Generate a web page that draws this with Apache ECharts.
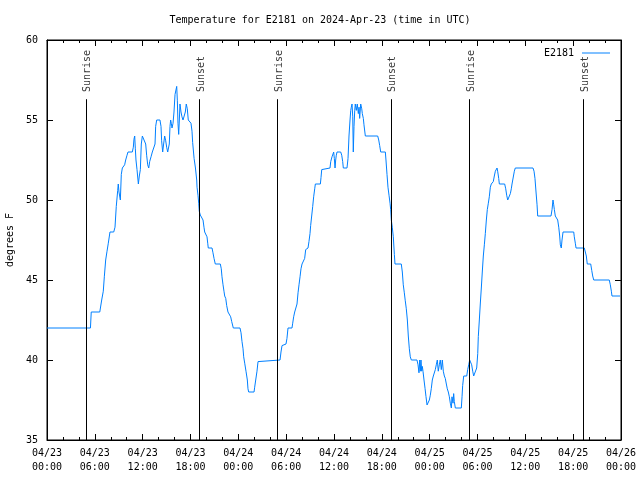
<!DOCTYPE html>
<html>
<head>
<meta charset="utf-8">
<script src="https://cdn.jsdelivr.net/npm/echarts@6/dist/echarts.min.js"></script>
<style>html,body{margin:0;padding:0;background:#fff}#c{width:640px;height:480px}</style>
</head>
<body>
<div id="c"></div>
<script>
// hours since 2024-04-23 00:00 UTC
const hours = [
0,5.45,5.55,6.62,6.86,7.06,7.19,7.36,7.53,7.69,7.90,8.37,8.53,8.69,8.87,8.94,9.03,9.20,9.32,9.45,
9.74,9.87,10.04,10.16,10.70,10.83,10.91,11.00,11.08,11.16,11.29,11.46,11.58,11.71,11.83,11.96,12.21,12.38,12.50,12.63,
12.76,12.88,13.05,13.21,13.42,13.55,13.63,13.76,14.17,14.30,14.38,14.51,14.63,14.76,14.89,15.01,15.14,15.27,15.34,15.43,
15.51,15.59,15.68,15.81,15.93,16.06,16.18,16.27,16.35,16.43,16.52,16.60,16.68,16.81,16.93,17.06,17.22,17.35,17.47,17.60,
17.72,17.94,18.06,18.19,18.27,18.45,18.62,18.78,18.82,18.94,19.03,19.10,19.23,19.48,19.57,19.69,19.78,19.98,20.07,20.16,
20.23,20.70,20.82,20.95,21.11,21.74,21.86,21.95,22.08,22.20,22.29,22.42,22.54,22.70,22.92,23.04,23.17,23.29,23.37,24.21,
24.34,24.46,24.59,24.67,24.80,24.96,25.13,25.21,25.30,25.97,26.05,26.18,26.34,26.47,26.59,29.23,29.35,29.48,29.98,30.10,
30.23,30.73,30.82,30.94,31.07,31.27,31.36,31.49,31.61,31.74,31.86,31.99,32.24,32.32,32.45,32.58,32.74,32.86,32.99,33.07,
33.20,33.33,33.45,33.58,33.66,34.29,34.37,34.46,34.53,35.50,35.59,35.75,35.88,35.96,36.04,36.13,36.21,36.29,36.38,36.84,
36.97,37.09,37.17,37.63,37.76,37.84,37.88,38.01,38.10,38.17,38.26,38.35,38.42,38.51,38.60,38.67,38.80,38.92,39.05,39.14,
39.22,39.35,39.48,39.55,39.68,39.76,39.93,41.48,41.61,41.73,41.86,42.44,42.52,42.65,42.77,42.90,43.03,43.11,43.19,43.31,
43.44,43.57,43.65,44.44,44.57,44.69,44.82,44.94,45.07,45.20,45.32,45.45,45.57,45.70,46.41,46.54,46.66,46.75,46.83,46.91,
47.00,47.08,47.17,47.29,47.42,47.54,47.67,47.79,47.83,47.96,48.08,48.21,48.33,48.46,48.58,48.71,48.83,48.96,49.08,49.21,
49.33,49.46,49.59,49.71,49.84,49.96,50.09,50.21,50.34,50.47,50.59,50.72,50.80,50.93,51.01,51.09,51.22,51.97,52.06,52.14,
52.27,52.65,52.77,52.90,53.02,53.15,53.27,53.40,53.52,53.77,53.90,54.03,54.10,54.23,54.35,54.48,54.60,54.73,54.86,54.98,
55.11,55.23,55.36,55.48,55.61,55.73,55.86,55.98,56.11,56.24,56.36,56.45,56.53,56.66,56.74,57.41,57.54,57.66,57.79,58.04,
58.12,58.24,58.33,58.49,58.62,58.74,60.96,61.09,61.21,61.34,61.47,61.55,63.22,63.35,63.47,63.56,63.64,63.76,63.94,64.06,
64.19,64.31,64.39,64.51,64.60,64.73,66.07,66.14,66.27,66.36,67.40,67.52,67.65,67.77,68.20,68.33,68.45,68.58,70.53,70.66,
70.79,70.87,71.88
];
const tempF = [
42,42,43,43,43.75,44.3,45.2,46.25,46.8,47.3,48,48,48.3,49.6,50.6,51.0,50.5,50.0,51.6,52.0,
52.2,52.5,52.8,53.0,53.0,53.3,53.8,54.0,53.2,52.5,51.9,51.0,51.5,51.9,53.5,54.0,54.0,53.5,52.8,52.2,
52.0,52.4,52.7,53.0,53.0,53.5,54.6,55.0,55.0,54.6,53.7,53.0,53.5,54.0,53.7,53.3,53.0,53.0,53.5,54.6,
55.0,54.8,54.5,54.8,55.5,56.6,56.7,57.1,56.2,54.8,54.1,55.0,56.0,55.5,55.2,55.0,55.0,55.5,56.0,55.7,
55.0,55.0,54.8,54.3,53.6,52.6,52.0,51.25,50.8,50.3,49.8,49.3,49.06,49.06,48.75,48.3,48.0,48.0,47.7,47.3,
47.0,47.0,46.7,46.35,46.0,46.0,45.7,45.2,44.7,44.3,44.0,43.85,43.4,43.0,43.0,42.7,42.4,42.3,42.0,42.0,
41.7,41.15,40.7,40.2,39.8,39.3,38.75,38.2,38.0,38.0,38.3,38.75,39.3,39.9,40.0,40.0,40.5,40.9,41.0,41.35,
42.0,42.0,42.3,42.7,43.0,43.1,43.5,44.2,44.7,45.2,45.7,46.0,46.0,46.35,46.9,47.0,47.0,47.4,47.9,48.4,
49.0,49.6,50.2,50.7,51.0,51.0,51.4,51.9,52.0,52.0,52.4,52.7,52.8,53.0,52.6,52.0,52.5,52.8,53.0,53.0,
52.8,52.4,52.0,52.0,52.6,53.5,54.0,55.0,55.6,55.8,56.0,55.2,53.0,54.6,55.6,56.0,55.6,56.0,55.4,55.8,
55.1,56.0,55.7,55.4,55.1,54.7,54.0,54.0,53.75,53.4,53.0,53.0,52.5,51.6,50.8,50.3,49.8,49.4,48.75,48.3,
47.7,46.6,46.0,46.0,45.5,44.7,44.2,43.7,43.2,42.5,41.5,40.7,40.2,40.0,40.0,39.7,39.2,40.0,39.3,40.0,
39.3,39.6,39.27,38.75,38.23,37.71,37.19,37.08,37.25,37.5,37.8,38.23,38.75,39.0,39.0,39.4,39.7,40.0,39.3,39.7,
40.0,39.4,40.0,39.3,39.0,38.85,38.5,38.2,38.0,37.7,37.3,37.0,37.7,37.3,37.9,37.4,37.0,37.0,37.7,38.4,
39.0,39.0,39.4,39.7,40.0,40.0,39.7,39.3,39.0,39.0,39.5,40.4,41.46,42.5,43.5,44.5,45.5,46.5,47.2,47.9,
48.75,49.4,49.8,50.2,50.8,51.0,51.1,51.15,51.5,51.8,51.9,52.0,51.8,51.35,51.0,51.0,50.7,50.3,50.0,50.0,
50.4,50.7,51.0,51.1,51.8,52.0,52.0,51.8,51.35,50.5,49.7,49.0,49.0,49.4,50.0,49.7,49.4,49.0,49.0,48.75,
48.3,47.75,47.2,47.0,47.5,48.0,48.0,47.7,47.3,47.0,47.0,46.9,46.5,46.0,46.0,45.6,45.25,45.0,45.0,44.7,
44.3,44.0,44.0
];
const xTickLabels = ['04/23\n00:00','04/23\n06:00','04/23\n12:00','04/23\n18:00','04/24\n00:00','04/24\n06:00',
  '04/24\n12:00','04/24\n18:00','04/25\n00:00','04/25\n06:00','04/25\n12:00','04/25\n18:00','04/26\n00:00'];
const markerHours = [4.94, 19.12, 28.91, 43.2, 53.0, 67.3];
const markerNames = ['Sunrise','Sunset','Sunrise','Sunset','Sunrise','Sunset'];
const seriesName = 'E2181';

const FONT = 'DejaVu Sans Mono';
const chart = echarts.init(document.getElementById('c'), null, {renderer:'canvas'});
const axisCommon = {
  type: 'value', min: 0, max: 72, interval: 6,
  axisLine: {show: true, onZero: false, lineStyle: {color: '#000', width: 1}},
  axisTick: {show: true, inside: true, length: 6, lineStyle: {color: '#000'}},
  minorTick: {show: true, splitNumber: 3, length: 3, lineStyle: {color: '#000'}},
  splitLine: {show: false}
};
const yCommon = {
  type: 'value', min: 35, max: 60, interval: 5,
  axisLine: {show: true, onZero: false, lineStyle: {color: '#000', width: 1}},
  axisTick: {show: true, inside: true, length: 6, lineStyle: {color: '#000'}},
  splitLine: {show: false}
};
chart.setOption({
  animation: false,
  backgroundColor: '#fff',
  title: {
    text: 'Temperature for E2181 on 2024-Apr-23 (time in UTC)',
    left: 'center', top: 10,
    textStyle: {fontFamily: FONT, fontSize: 10, fontWeight: 'normal', color: '#000'}
  },
  legend: {
    data: [seriesName], right: 25, top: 43, align: 'right',
    icon: 'rect', itemWidth: 28, itemHeight: 1, itemGap: 8,
    textStyle: {fontFamily: FONT, fontSize: 10, color: '#000', padding: [0, 3, 0, 0]}
  },
  grid: {left: 47, right: 19, top: 40, bottom: 40, containLabel: false, outerBoundsMode: 'none',
    show: true, borderColor: '#000', borderWidth: 1},
  xAxis: [
    Object.assign({}, axisCommon, {position: 'bottom',
      axisLabel: {formatter: v => xTickLabels[Math.round(v / 6)], fontFamily: FONT, fontSize: 10,
        color: '#000', margin: 6, lineHeight: 14}}),
    Object.assign({}, axisCommon, {position: 'top', axisLabel: {show: false}})
  ],
  yAxis: [
    Object.assign({}, yCommon, {position: 'left',
      name: 'degrees F', nameLocation: 'middle', nameGap: 32, nameRotate: 90,
      nameTextStyle: {fontFamily: FONT, fontSize: 10, color: '#000'},
      axisLabel: {fontFamily: FONT, fontSize: 10, color: '#000', margin: 9}}),
    Object.assign({}, yCommon, {position: 'right', axisLabel: {show: false}})
  ],
  series: [
    {
      name: seriesName, type: 'line', xAxisIndex: 0, yAxisIndex: 0,
      data: hours.map((h, i) => [h, tempF[i]]),
      symbol: 'none', showSymbol: false, sampling: null,
      lineStyle: {color: '#0080ff', width: 1}, itemStyle: {color: '#0080ff'},
      z: 3,
      markLine: {
        silent: true, symbol: 'none', animation: false,
        label: {show: false},
        lineStyle: {color: '#000', width: 1, type: 'solid'},
        data: markerHours.map(h => [{coord: [h, 35]}, {coord: [h, 56.3]}])
      }
    },
    {
      name: 'markers', type: 'scatter', xAxisIndex: 0, yAxisIndex: 0,
      symbolSize: 0, silent: true,
      data: markerHours.map((h, i) => ({name: markerNames[i], value: [h, 56.75]})),
      label: {show: true, formatter: '{b}', position: 'inside', rotate: 90,
        align: 'left', verticalAlign: 'middle', offset: [0, 1.5],
        fontFamily: FONT, fontSize: 10, color: '#000'}
    }
  ]
});
</script>
</body>
</html>
